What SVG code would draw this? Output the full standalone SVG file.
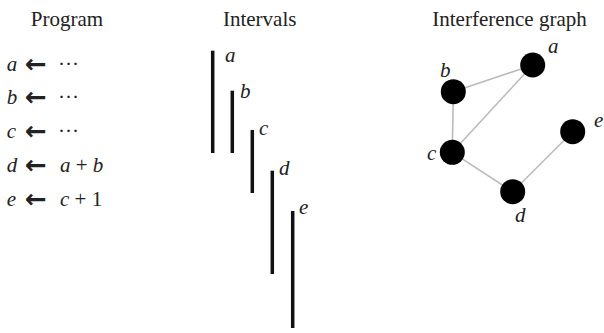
<svg xmlns="http://www.w3.org/2000/svg" width="604" height="333" viewBox="0 0 604 333">
<style>
.t{font-family:"Liberation Serif","Times New Roman",serif;font-size:21px;fill:#222}
.i{font-family:"Liberation Serif","Times New Roman",serif;font-size:21px;font-style:italic;fill:#222}
.arr{font-family:"DejaVu Sans",sans-serif;font-size:26px;font-weight:bold;fill:#222}
.iv{stroke:#111;stroke-width:3.5}
.e{stroke:#bbb;stroke-width:1.6;fill:none}
.n{fill:#000}
</style>
<rect width="604" height="333" fill="#fff"/>
<g id="titles">
<text class="t" x="67" y="26" text-anchor="middle">Program</text>
<text class="t" x="259.7" y="26" text-anchor="middle">Intervals</text>
<text class="t" x="509.5" y="26" text-anchor="middle">Interference graph</text>
</g>
<g id="program">
<text class="i" x="6.7" y="70.5">a</text><text class="arr" x="25" y="72.5">←</text><text class="t" x="58" y="70.5">···</text>
<text class="i" x="6.7" y="104">b</text><text class="arr" x="25" y="106">←</text><text class="t" x="58" y="104">···</text>
<text class="i" x="6.7" y="137.5">c</text><text class="arr" x="25" y="139.5">←</text><text class="t" x="58" y="137.5">···</text>
<text class="i" x="6.7" y="171.5">d</text><text class="arr" x="25" y="173.5">←</text><text class="i" x="60" y="171.5">a<tspan font-style="normal"> + </tspan>b</text>
<text class="i" x="6.7" y="205.5">e</text><text class="arr" x="25" y="207.5">←</text><text class="i" x="60" y="205.5">c<tspan font-style="normal"> + 1</tspan></text>
</g>
<g id="intervals">
<line class="iv" x1="212.7" y1="50.7" x2="212.7" y2="153"/>
<line class="iv" x1="232.3" y1="90.7" x2="232.3" y2="153"/>
<line class="iv" x1="252.3" y1="130" x2="252.3" y2="193"/>
<line class="iv" x1="272.3" y1="170.7" x2="272.3" y2="274"/>
<line class="iv" x1="292.7" y1="211" x2="292.7" y2="328"/>
<text class="i" x="225" y="62">a</text>
<text class="i" x="240" y="98">b</text>
<text class="i" x="259" y="135">c</text>
<text class="i" x="279" y="175">d</text>
<text class="i" x="299" y="214">e</text>
</g>
<g id="connectors">
<line class="e" x1="453.3" y1="91.7" x2="532.7" y2="65"/>
<line class="e" x1="532.7" y1="65" x2="452.3" y2="152.3"/>
<line class="e" x1="453.3" y1="91.7" x2="452.3" y2="152.3"/>
<line class="e" x1="452.3" y1="152.3" x2="512.7" y2="191.7"/>
<line class="e" x1="512.7" y1="191.7" x2="572.7" y2="131.7"/>
</g>
<g id="node-a"><circle class="n" cx="532.7" cy="65" r="12.5"/><text class="i" x="548" y="53">a</text></g>
<g id="node-b"><circle class="n" cx="453.3" cy="91.7" r="12.5"/><text class="i" x="440" y="77">b</text></g>
<g id="node-c"><circle class="n" cx="452.3" cy="152.3" r="12.5"/><text class="i" x="427" y="160">c</text></g>
<g id="node-d"><circle class="n" cx="512.7" cy="191.7" r="12.5"/><text class="i" x="515" y="222">d</text></g>
<g id="node-e"><circle class="n" cx="572.7" cy="131.7" r="12.5"/><text class="i" x="594" y="127">e</text></g>
</svg>
